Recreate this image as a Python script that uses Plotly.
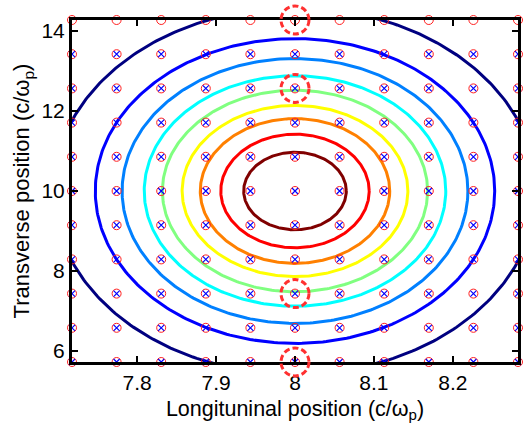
import numpy as np
import plotly.graph_objects as go

# ---- data ----
center_x = 8.0
center_y = 10.0
levels = [0.1, 0.2, 0.3, 0.4, 0.5, 0.6, 0.7, 0.8, 0.9]
semi_x = [0.306, 0.253, 0.219, 0.191, 0.168, 0.143, 0.120, 0.094, 0.065]
semi_y = [4.58, 3.81, 3.31, 2.88, 2.52, 2.14, 1.81, 1.42, 0.97]
level_colors = ["#000080", "#0000ff", "#0080ff", "#00ffff", "#80ff80",
                "#ffff00", "#ff8000", "#ff0000", "#800000"]

grid_x = [7.7175, 7.774, 7.8305, 7.887, 7.9435, 8.0, 8.0565, 8.113, 8.1695, 8.226, 8.2825]
grid_y = [5.725, 6.58, 7.435, 8.29, 9.145, 10.0, 10.855, 11.71, 12.565, 13.42, 14.275]
# blue crosses on all rows except the top one
cross_y = grid_y[:-1]

highlight_x = [8.0, 8.0, 8.0, 8.0]
highlight_y = [14.275, 12.565, 7.435, 5.725]

x_range = [7.7175, 8.2825]
y_range = [5.725, 14.275]
x_ticks = [7.8, 7.9, 8.0, 8.1, 8.2]
x_ticklabels = ["7.8", "7.9", "8", "8.1", "8.2"]
y_ticks = [6, 8, 10, 12, 14]
y_ticklabels = ["6", "8", "10", "12", "14"]

FONT = "Liberation Sans, Arial, Helvetica, sans-serif"

fig = go.Figure()

theta = np.linspace(0, 2 * np.pi, 361)
for lv, ax_, ay_, col in zip(levels, semi_x, semi_y, level_colors):
    fig.add_trace(go.Scatter(
        x=center_x + ax_ * np.cos(theta),
        y=center_y + ay_ * np.sin(theta),
        mode="lines", line=dict(color=col, width=3),
        hoverinfo="skip", showlegend=False, name=str(lv)))

gx, gy = np.meshgrid(grid_x, grid_y)
fig.add_trace(go.Scatter(
    x=gx.ravel(), y=gy.ravel(), mode="markers",
    marker=dict(symbol="circle-open", size=9, color="#ff2020", line=dict(width=1)),
    cliponaxis=False, showlegend=False))

cx, cy = np.meshgrid(grid_x, cross_y)
fig.add_trace(go.Scatter(
    x=cx.ravel(), y=cy.ravel(), mode="markers",
    marker=dict(symbol="x-thin-open", size=6, color="#0000ff", line=dict(width=1.2, color="#0000ff")),
    cliponaxis=False, showlegend=False))

shapes = []
for hx, hy in zip(highlight_x, highlight_y):
    px = (hx - x_range[0]) / (x_range[1] - x_range[0])
    py = (hy - y_range[0]) / (y_range[1] - y_range[0])
    shapes.append(dict(
        type="circle", xref="paper", yref="paper",
        xsizemode="pixel", ysizemode="pixel",
        xanchor=px, yanchor=py, x0=-14, x1=14, y0=-14, y1=14,
        line=dict(color="#ff3030", width=3, dash="6px,3px"), layer="above"))

axis_common = dict(
    showline=True, linecolor="black", linewidth=3, mirror="allticks",
    ticks="inside", ticklen=6, tickwidth=2, tickcolor="black",
    showgrid=False, zeroline=False,
    tickfont=dict(family=FONT, size=21, color="black"),
)

fig.update_layout(
    width=524, height=435,
    margin=dict(l=72, r=3, t=20, b=73),
    paper_bgcolor="white", plot_bgcolor="white",
    shapes=shapes,
    xaxis=dict(range=x_range, tickvals=x_ticks, ticktext=x_ticklabels,
               title=dict(text="Longituninal position (c/ω<sub>p</sub>)",
                          font=dict(family=FONT, size=21.5, color="black"), standoff=8),
               **axis_common),
    yaxis=dict(range=y_range, tickvals=y_ticks, ticktext=y_ticklabels,
               ticklabelstandoff=0,
               title=dict(text="Transverse position (c/ω<sub>p</sub>)",
                          font=dict(family=FONT, size=22, color="black"), standoff=6),
               **axis_common),
)

fig.write_html("out.html")
